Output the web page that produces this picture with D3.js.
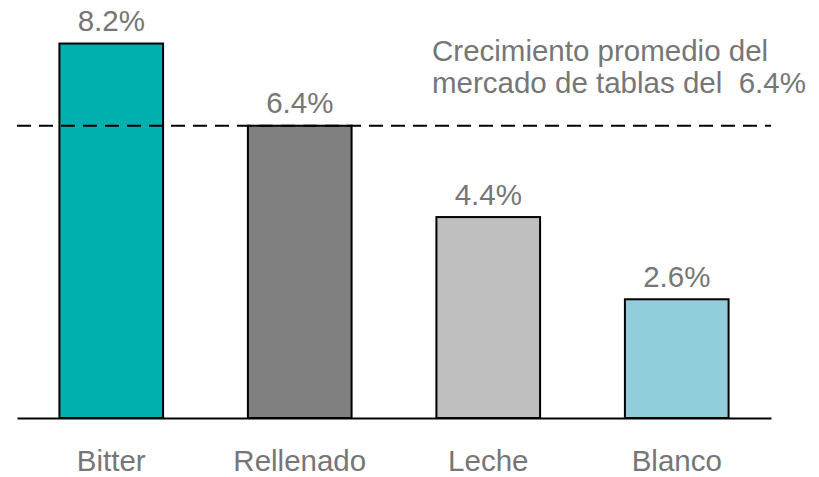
<!DOCTYPE html>
<html>
<head>
<meta charset="utf-8">
<script src="https://cdn.jsdelivr.net/npm/d3@7"></script>
<style>
  html, body { margin: 0; padding: 0; background: #fff; }
  svg { display: block; }
  text { font-family: "Liberation Sans", Arial, sans-serif; fill: #767676; }
</style>
</head>
<body>
<svg id="chart" width="819" height="477"></svg>
<script>
// Chocolate bar segments and their growth (%)
const categories = ["Bitter", "Rellenado", "Leche", "Blanco"];
const growth = [8.2, 6.4, 4.4, 2.6];
const barColors = ["#00B0AF", "#808080", "#BFBFBF", "#92CDDC"];

// Average growth of the whole bar-chocolate market (%)
const marketAverage = 6.4;
const annotationLines = ["Crecimiento promedio del", "mercado de tablas del  6.4%"];

const svg = d3.select("#chart");
const fontSize = "29.5px";

const x = d3.scaleBand()
  .domain(categories)
  .range([17, 771])
  .paddingInner(0.45)
  .paddingOuter(0.225);

const y = d3.scaleLinear()
  .domain([0, 9])
  .range([418, 7]);

const data = categories.map((c, i) => ({ cat: c, value: growth[i], color: barColors[i] }));

// Bars
svg.append("g")
  .selectAll("rect")
  .data(data)
  .join("rect")
  .attr("x", d => x(d.cat))
  .attr("y", d => y(d.value))
  .attr("width", x.bandwidth())
  .attr("height", d => y(0) - y(d.value))
  .attr("fill", d => d.color)
  .attr("stroke", "#000")
  .attr("stroke-width", 2);

// Value labels above each bar
svg.append("g")
  .selectAll("text")
  .data(data)
  .join("text")
  .attr("x", d => x(d.cat) + x.bandwidth() / 2)
  .attr("y", d => y(d.value) - 12.5)
  .attr("text-anchor", "middle")
  .style("font-size", fontSize)
  .text(d => d.value.toFixed(1) + "%");

// Category axis (baseline only, no ticks)
const xAxis = svg.append("g")
  .attr("transform", `translate(0,${y(0)})`)
  .call(d3.axisBottom(x).tickSize(0).tickPadding(0).tickSizeOuter(0));
xAxis.select(".domain").attr("stroke", "#000").attr("stroke-width", 2);
xAxis.selectAll(".tick text")
  .attr("y", 52.5)
  .attr("dy", null)
  .style("font-size", fontSize)
  .style("font-family", "'Liberation Sans', Arial, sans-serif")
  .attr("fill", "#767676");

// Market average reference line
svg.append("line")
  .attr("x1", 17)
  .attr("x2", 771)
  .attr("y1", y(marketAverage))
  .attr("y2", y(marketAverage))
  .attr("stroke", "#000")
  .attr("stroke-width", 2)
  .attr("stroke-dasharray", "14,8");

// Annotation for the reference line
const note = svg.append("text")
  .attr("x", 432)
  .attr("y", 60.7)
  .style("font-size", fontSize)
  .style("white-space", "pre");
note.selectAll("tspan")
  .data(annotationLines)
  .join("tspan")
  .attr("x", 432)
  .attr("dy", (d, i) => i === 0 ? 0 : 32.6)
  .text(d => d);
</script>
</body>
</html>
